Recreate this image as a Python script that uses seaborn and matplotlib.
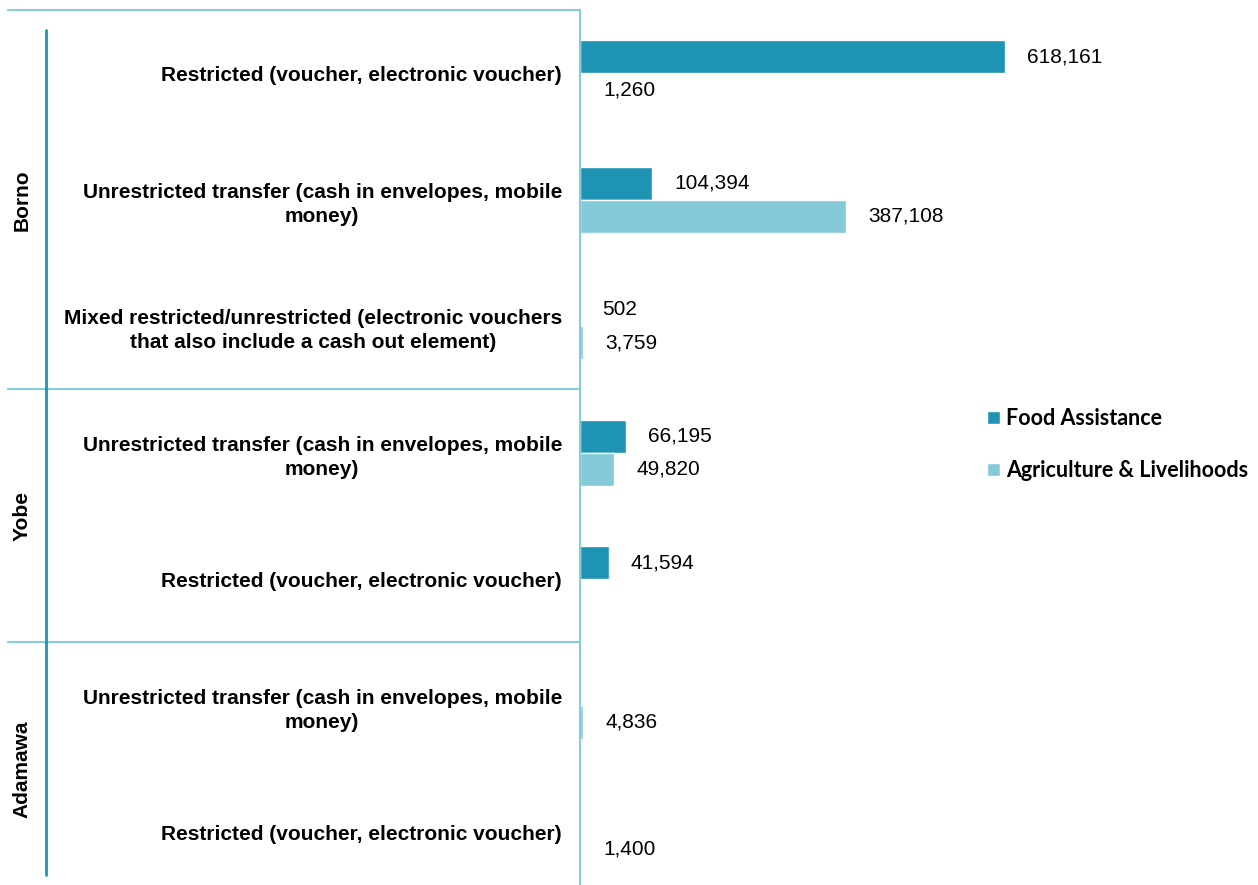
import numpy as np
import pandas as pd
import matplotlib.pyplot as plt
import matplotlib.transforms as mtransforms
import seaborn as sns

sns.set_style("white")
plt.rcParams['font.family'] = ['Liberation Sans', 'DejaVu Sans']
plt.rcParams['text.color'] = 'black'
plt.rcParams['axes.labelcolor'] = 'black'
plt.rcParams['ytick.color'] = 'black'

# data
regions = ["Borno", "Borno", "Borno", "Yobe", "Yobe", "Adamawa", "Adamawa"]
transfer_types = [
    "Restricted (voucher, electronic voucher)",
    "Unrestricted transfer (cash in envelopes, mobile\nmoney)",
    "Mixed restricted/unrestricted (electronic vouchers\nthat also include a cash out element)",
    "Unrestricted transfer (cash in envelopes, mobile\nmoney)",
    "Restricted (voucher, electronic voucher)",
    "Unrestricted transfer (cash in envelopes, mobile\nmoney)",
    "Restricted (voucher, electronic voucher)",
]
food_assistance = [618161, 104394, 502, 66195, 41594, np.nan, np.nan]
agri_livelihoods = [1260, 387108, 3759, 49820, np.nan, 4836, 1400]
series = ["Food Assistance", "Agriculture & Livelihoods"]
colors = ["#1F93B3", "#85CAD8"]

keys = [f"{r}_{i}" for i, r in enumerate(regions)]
df = pd.DataFrame({
    "key": keys * 2,
    "series": [series[0]] * len(keys) + [series[1]] * len(keys),
    "value": food_assistance + agri_livelihoods,
})

fig = plt.figure(figsize=(12.58, 8.85), dpi=100)
ax = fig.add_axes([580 / 1258, 0, 678 / 1258, 875 / 885])

sns.barplot(data=df, y="key", x="value", hue="series", order=keys,
            hue_order=series, palette=colors, orient="h", width=0.52,
            saturation=1, errorbar=None, ax=ax)

ax.set_xlim(0, 986000)
ax.set_ylim(6.417, -0.5)
ax.set_xlabel("")
ax.set_ylabel("")
ax.set_xticks([])
ax.set_yticks(range(len(keys)))
ax.set_yticklabels(transfer_types, fontsize=15, fontweight="bold", color="black")
for t in ax.get_yticklabels():
    t.set_multialignment("center")
    t.set_linespacing(1.35)
ax.tick_params(axis="y", length=0, pad=13)

for s in ["top", "right", "bottom"]:
    ax.spines[s].set_visible(False)
ax.spines["left"].set_color("#86CBD8")
ax.spines["left"].set_linewidth(1.5)

# value labels
for c in ax.containers:
    labels = ["" if np.isnan(v) else f"{v:,.0f}" for v in c.datavalues]
    ax.bar_label(c, labels=labels, padding=16, fontsize=15, color="black")

# group separators and labels
trans = mtransforms.blended_transform_factory(ax.transAxes, ax.transData)
x_sep = (8 - 580) / 678
x_grp = (22 - 580) / 678
bounds = [-0.5] + [i - 0.5 for i in range(1, len(regions)) if regions[i] != regions[i - 1]]
for b in bounds:
    ax.plot([x_sep, 0], [b, b], color="#86CBD8", lw=1.5, transform=trans, clip_on=False)

for r in dict.fromkeys(regions):
    idx = [i for i, g in enumerate(regions) if g == r]
    ax.text(x_grp, np.mean(idx), r, rotation=90, ha="center", va="center",
            fontsize=15, fontweight="bold", color="black", transform=trans)

x_bracket = (46 - 580) / 678
ax.plot([x_bracket, x_bracket], [-0.342, 6.338], color="#1E93B3", lw=2,
        transform=trans, clip_on=False)

# legend
handles, lbls = ax.get_legend_handles_labels()
leg = ax.legend(handles, lbls, loc="upper left", bbox_to_anchor=(987 / 1258, 1 - 408 / 885),
                bbox_transform=fig.transFigure, frameon=False, borderpad=0, borderaxespad=0,
                handlelength=0.6, handleheight=0.6, handletextpad=0.3, labelspacing=1.45,
                prop={"family": "Lato", "weight": "bold", "size": 15.5})
for t in leg.get_texts():
    t.set_color("black")

fig.savefig("out.png", dpi=100)
